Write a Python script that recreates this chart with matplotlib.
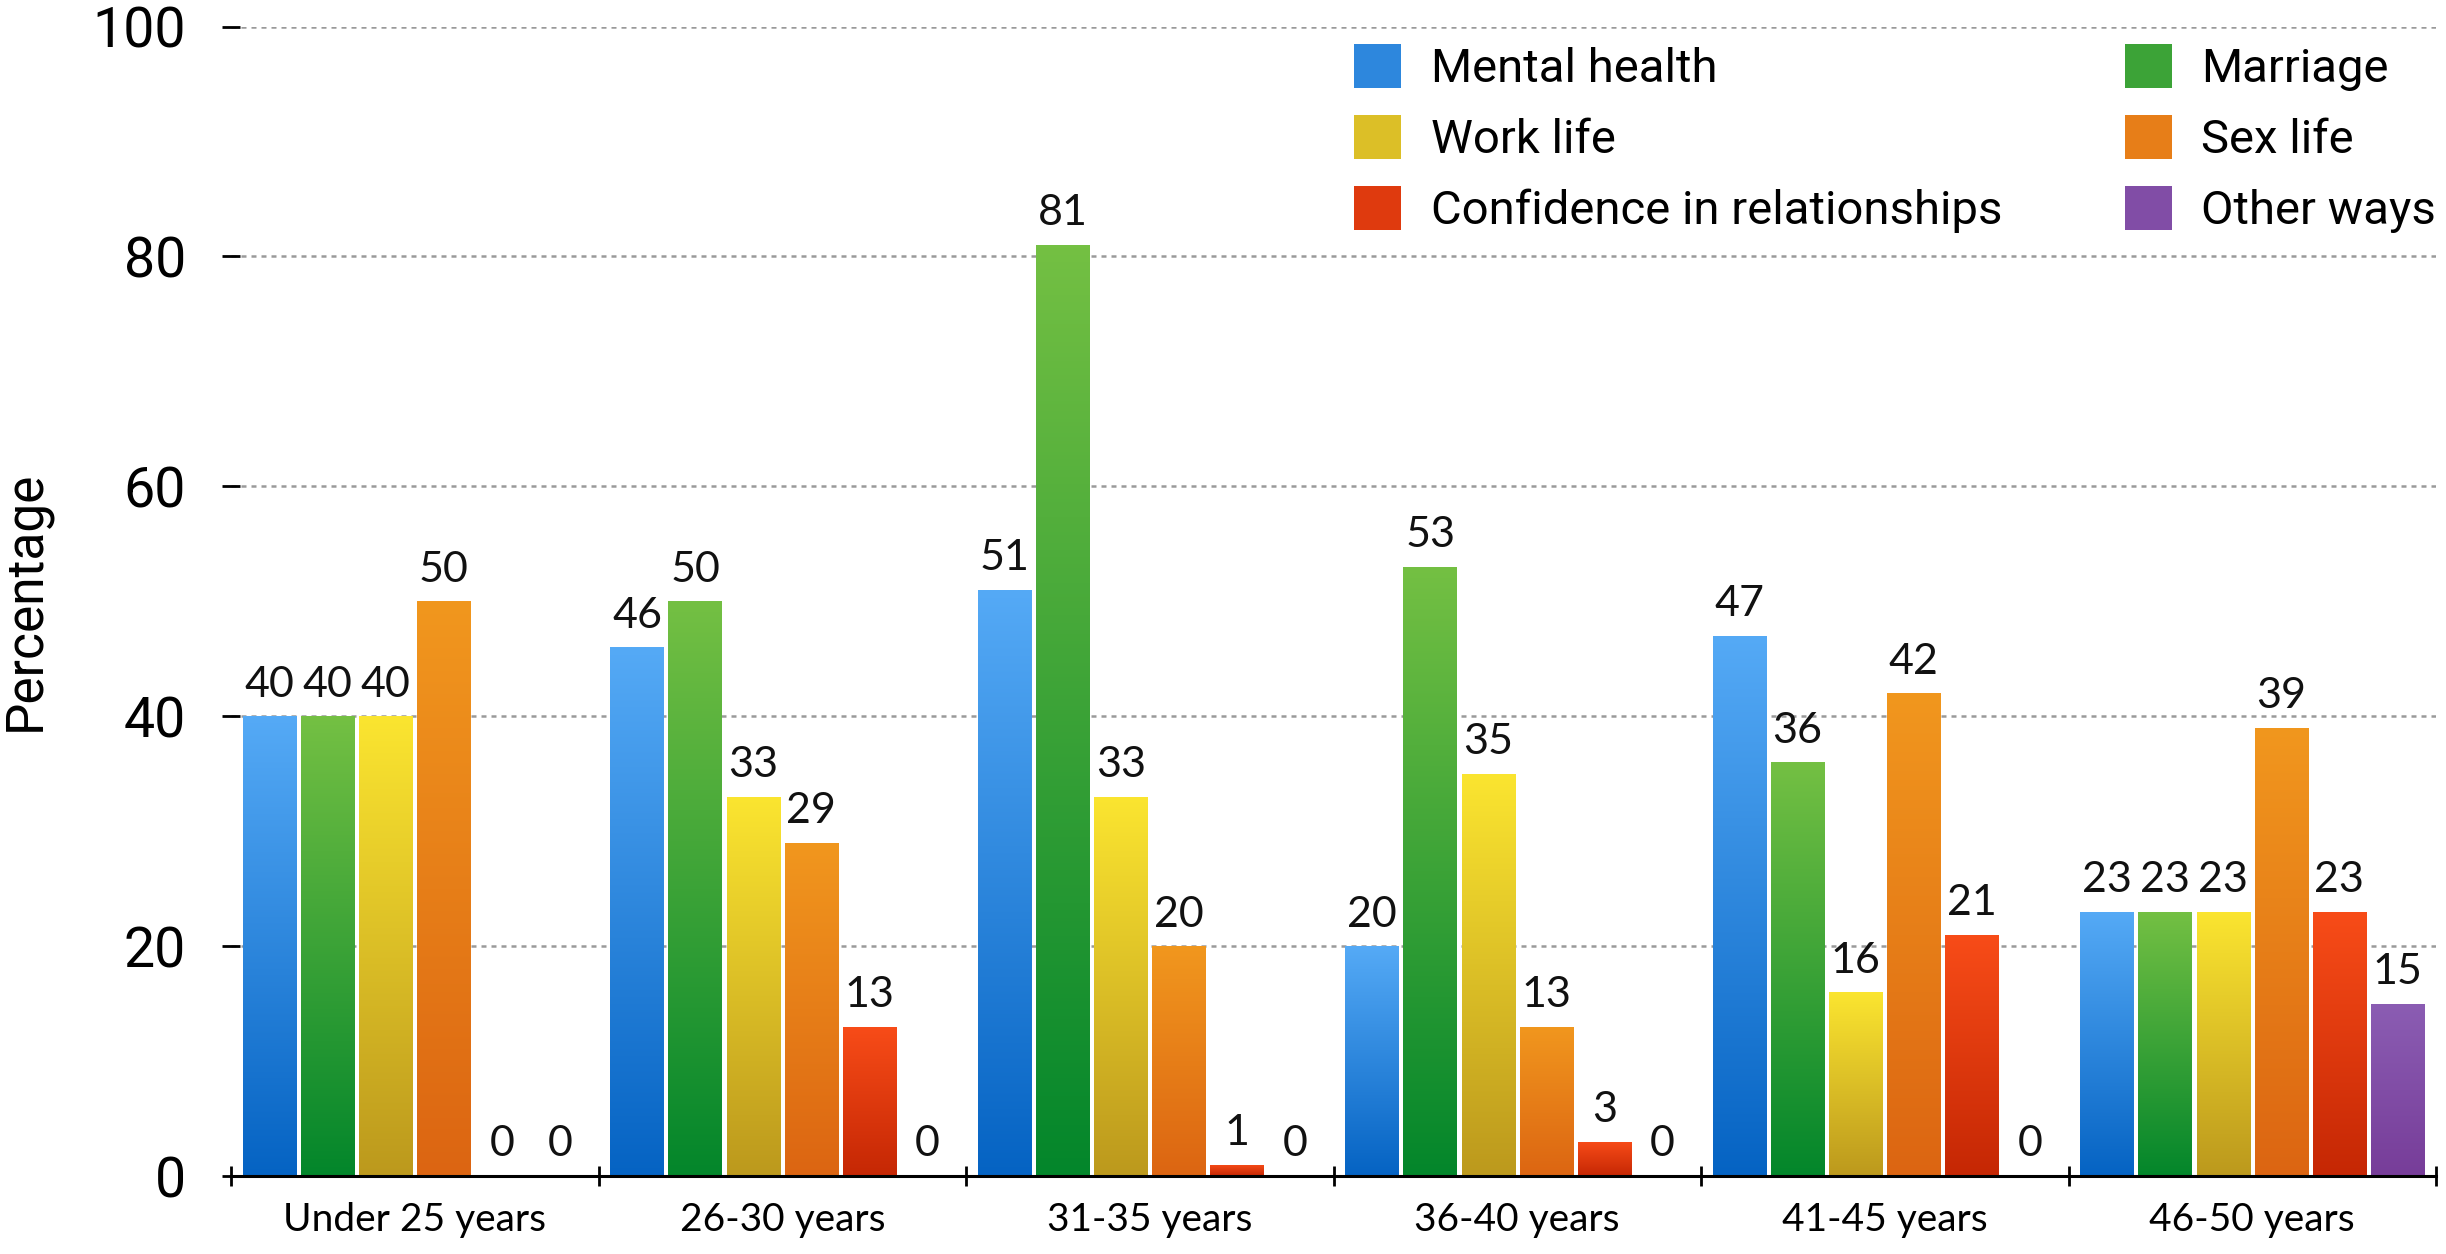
import numpy as np
import matplotlib.pyplot as plt
from matplotlib.colors import LinearSegmentedColormap
from matplotlib.patches import Patch

# age groups and answer categories (bar order inside each group)
groups = ["Under 25 years", "26-30 years", "31-35 years", "36-40 years", "41-45 years", "46-50 years"]
series = ["Mental health", "Marriage", "Work life", "Sex life", "Confidence in relationships", "Other ways"]

mental_health = [40, 46, 51, 20, 47, 23]
marriage = [40, 50, 81, 53, 36, 23]
work_life = [40, 33, 33, 35, 16, 23]
sex_life = [50, 29, 20, 13, 42, 39]
confidence = [0, 13, 1, 3, 21, 23]
other_ways = [0, 0, 0, 0, 0, 15]

values = [mental_health, marriage, work_life, sex_life, confidence, other_ways]

# gradient colours (top, bottom)
grads = [("#55aaf6", "#0563c3"),
         ("#74c043", "#03862b"),
         ("#fbe530", "#bc991d"),
         ("#f1971e", "#dc6512"),
         ("#f84c18", "#c52704"),
         ("#8b5db3", "#773d99")]

W, H = 2446, 1254
fig = plt.figure(figsize=(W / 100, H / 100), dpi=100)
ax = fig.add_axes([231 / W, 1 - 1176 / H, (2436 - 231) / W, (1176 - 26.5) / H])

x = np.arange(len(groups))
slot = 0.158
bar_w = slot * 0.92
grad_img = np.linspace(0, 1, 256).reshape(-1, 1)

for i, (name, vals) in enumerate(zip(series, values)):
    pos = x + (i - 2.5) * slot
    top, bottom = grads[i]
    cmap = LinearSegmentedColormap.from_list(name, [bottom, top])
    bars = ax.bar(pos, vals, width=bar_w, color=top, linewidth=0, zorder=2)
    for b, v in zip(bars, vals):
        if v > 0:
            im = ax.imshow(grad_img, extent=[b.get_x(), b.get_x() + b.get_width(), 0, v],
                           origin="lower", aspect="auto", cmap=cmap, zorder=2.5)
            im.set_clip_path(b)
        ax.annotate(str(v), (b.get_x() + b.get_width() / 2, v), xytext=(0, 9),
                    textcoords="offset points", ha="center", va="bottom",
                    fontsize=31, family="Lato", color="#111111", zorder=4)

ax.set_xlim(-0.5, len(groups) - 0.5)
ax.set_ylim(0, 100)

# grid
ax.set_yticks([0, 20, 40, 60, 80, 100])
ax.yaxis.grid(True, color="#9a9a9a", linestyle=(0, (2, 2)), linewidth=1.8, zorder=0)
ax.set_axisbelow(True)
for lab in ax.get_yticklabels():
    lab.set_family("Roboto")
ax.tick_params(axis="y", direction="inout", length=13, width=2, labelsize=40, pad=26, color="black")

# x axis: ticks at group borders, labels at centres
ax.set_xticks(np.arange(len(groups) + 1) - 0.5)
ax.set_xticklabels([])
ax.set_xticks(x, minor=True)
ax.set_xticklabels(groups, minor=True, fontsize=28, family="Lato")
ax.tick_params(axis="x", which="major", direction="inout", length=14, width=2)
ax.tick_params(axis="x", which="minor", length=0, pad=19)

for s in ["top", "right", "left"]:
    ax.spines[s].set_visible(False)
ax.spines["bottom"].set_linewidth(2.2)
ax.spines["bottom"].set_zorder(5)

fig.text(26 / W, 1 - 601 / H, "Percentage", rotation=90, ha="center", va="center",
         fontsize=37, family="Roboto")

# legend in two columns
order = [0, 2, 4, 1, 3, 5]
handles = []
for i in order:
    mid = LinearSegmentedColormap.from_list("m", [grads[i][1], grads[i][0]])(0.5)
    handles.append(Patch(facecolor=mid, label=series[i]))
leg = fig.legend(handles=handles, ncol=2, loc="upper left",
                 bbox_to_anchor=(1354 / W, 1 - 44 / H), frameon=False,
                 prop={"family": "Roboto", "size": 34},
                 handlelength=1.0, handleheight=1.06, handletextpad=0.62,
                 columnspacing=2.6, labelspacing=0.5, borderpad=0, borderaxespad=0)

fig.savefig("out.png", dpi=100)
